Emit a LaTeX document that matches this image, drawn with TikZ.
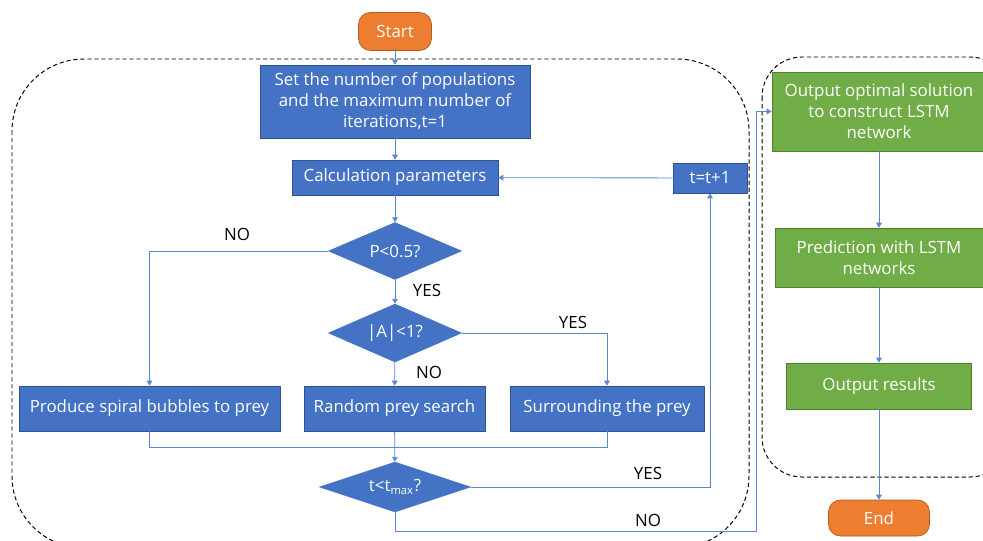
\documentclass[tikz,border=0pt]{standalone}
\usepackage{fontspec}
\setmainfont{Open Sans}
\usetikzlibrary{arrows.meta,shapes.geometric}
\definecolor{boxblue}{HTML}{4472C4}
\definecolor{boxblueline}{HTML}{2F528F}
\definecolor{boxgreen}{HTML}{70AD47}
\definecolor{boxgreenline}{HTML}{507E32}
\definecolor{boxorange}{HTML}{ED7D31}
\definecolor{boxorangeline}{HTML}{AE5A21}
\definecolor{linkblue}{HTML}{5B87D0}
\tikzset{
  every node/.style={font=\fontsize{12}{15}\selectfont},
  bluebox/.style={draw=boxblueline, fill=boxblue, text=white, line width=0.5pt, align=center, inner sep=0pt},
  greenbox/.style={draw=boxgreenline, fill=boxgreen, text=white, line width=0.5pt, align=center, inner sep=0pt},
  termbox/.style={draw=boxorangeline, fill=boxorange, text=white, line width=0.5pt, rounded corners=0.3cm, inner sep=0pt},
  decision/.style={diamond, fill=boxblue, draw=boxblue, text=white, inner sep=0pt, aspect=2.3},
  link/.style={draw=linkblue, line width=0.6pt},
  arrowlink/.style={link, -{Triangle[width=4pt,length=3.5pt]}},
  lbl/.style={text=black},
  container/.style={draw=black, dashed, line width=0.7pt, dash pattern=on 3pt off 2pt},
}
\begin{document}
\begin{tikzpicture}[x=0.025cm, y=-0.025cm]
\useasboundingbox (0,0) rectangle (983,540);
% containers
\draw[container, rounded corners=1.8cm] (12,59) rectangle (749,548);
\draw[container, rounded corners=1cm] (762,57) rectangle (1010,477);
% nodes
\node[termbox, minimum width=1.825cm, minimum height=0.95cm] (start) at (395,31.5) {Start};
\node[bluebox, minimum width=6.75cm, minimum height=1.825cm] (set) at (395,101.5) {Set the number of populations\\and the maximum number of\\iterations,t=1};
\node[bluebox, minimum width=5.15cm, minimum height=0.875cm] (calc) at (395,177.5) {Calculation parameters};
\node[bluebox, minimum width=1.85cm, minimum height=0.75cm] (tinc) at (710,178) {t=t+1};
\node[decision, minimum width=3.325cm, minimum height=1.425cm] (p) at (395,251) {P<0.5?};
\node[decision, minimum width=3.325cm, minimum height=1.45cm] (a) at (395,333) {|A|<1?};
\node[decision, minimum width=3.775cm, minimum height=1.25cm] (tmax) at (395,487) {t<t\textsubscript{max}?};
\node[bluebox, minimum width=6.525cm, minimum height=1.125cm] (produce) at (149.5,408.5) {Produce spiral bubbles to prey};
\node[bluebox, minimum width=4.525cm, minimum height=1.125cm] (random) at (394.5,408.5) {Random prey search};
\node[bluebox, minimum width=4.85cm, minimum height=1.125cm] (surr) at (607,408.5) {Surrounding the prey};
\node[greenbox, minimum width=5.35cm, minimum height=1.975cm] (opt) at (879,111.5) {Output optimal solution\\to construct LSTM\\network};
\node[greenbox, minimum width=5.2cm, minimum height=1.475cm] (pred) at (879,257.5) {Prediction with LSTM\\networks};
\node[greenbox, minimum width=4.625cm, minimum height=1.15cm] (outres) at (879,386) {Output results};
\node[termbox, minimum width=2.525cm, minimum height=0.9cm] (end) at (879,518) {End};
% helper coordinates
\coordinate (merge) at (395,447);
\coordinate (nocorner) at (756,531);
% connectors
\draw[arrowlink] (start) -- (set);
\draw[arrowlink] (set) -- (calc);
\draw[arrowlink] (tinc) -- (calc);
\draw[arrowlink] (calc) -- (p);
\draw[arrowlink] (p.west) -| (produce.north);
\draw[arrowlink] (p) -- (a);
\draw[arrowlink] (a) -- (random);
\draw[arrowlink] (a.east) -| (surr.north);
\draw[link] (produce.south) |- (merge) -| (surr.south);
\draw[arrowlink] (random) -- (tmax);
\draw[arrowlink] (tmax.east) -| (tinc.south);
\draw[arrowlink] (tmax.south) |- (nocorner) |- (opt.west);
\draw[arrowlink] (opt) -- (pred);
\draw[arrowlink] (pred) -- (outres);
\draw[arrowlink] (outres) -- (end);
% labels
\node[lbl] (lno1) at (237,234) {NO};
\node[lbl] (lyes1) at (427,290) {YES};
\node[lbl] (lno2) at (429,372) {NO};
\node[lbl] (lyes2) at (573,322) {YES};
\node[lbl] (lyes3) at (648,473) {YES};
\node[lbl] (lno3) at (648,520) {NO};
\end{tikzpicture}
\end{document}
